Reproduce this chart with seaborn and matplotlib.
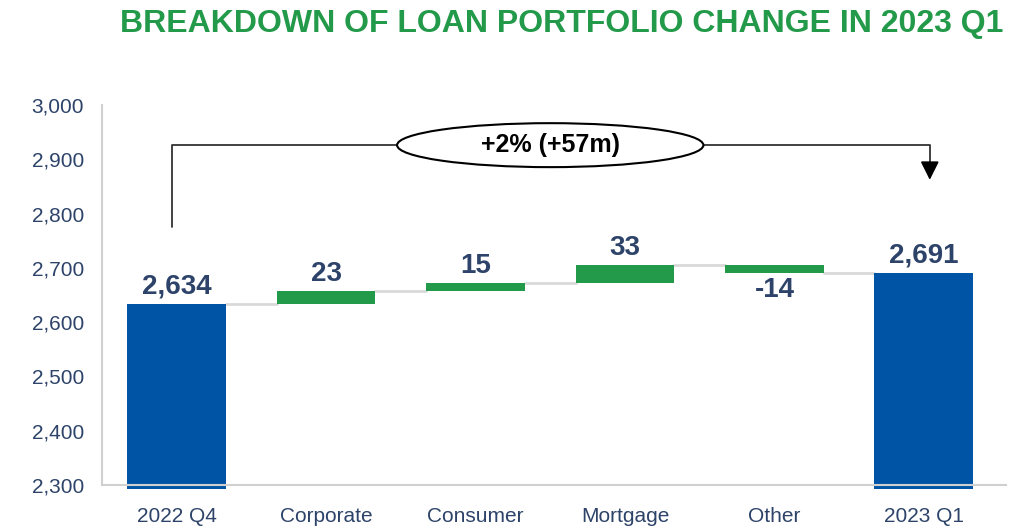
import matplotlib
matplotlib.use('Agg')
import matplotlib.pyplot as plt
import seaborn as sns
import pandas as pd
from matplotlib.patches import Ellipse

# Waterfall data
categories = ['2022 Q4', 'Corporate', 'Consumer', 'Mortgage', 'Other', '2023 Q1']
changes = [2634, 23, 15, 33, -14, 2691]
is_total = [True, False, False, False, False, True]
y_ticks = [2300, 2400, 2500, 2600, 2700, 2800, 2900, 3000]
note_text = '+2% (+57m)'

BLUE = '#0054a5'
GREEN = '#229a4a'
NAVY = '#2d4369'
Y_MIN = 2300

# compute bottoms / tops of each step
bottoms, tops = [], []
running = 0
for v, tot in zip(changes, is_total):
    if tot:
        bottoms.append(Y_MIN - 8)
        tops.append(v)
        running = v
    else:
        start = running
        running = running + v
        bottoms.append(min(start, running))
        tops.append(max(start, running))

df = pd.DataFrame({'category': categories, 'bottom': bottoms, 'top': tops,
                   'change': changes, 'total': is_total})
df['height'] = df['top'] - df['bottom']

sns.set_style('white')
plt.rcParams['font.family'] = ['Liberation Sans', 'DejaVu Sans']

fig = plt.figure(figsize=(10.32, 5.27), dpi=100)
ax = fig.add_axes([0.0988, 0.0797, 0.876, 0.7211])

colors = [BLUE if t else GREEN for t in is_total]
sns.barplot(data=df, x='category', y='height', hue='category', palette=colors,
            legend=False, ax=ax, width=0.66, saturation=1, linewidth=0)
for patch, b in zip(ax.patches, df['bottom']):
    patch.set_y(b)
    patch.set_clip_on(False)

# connectors between steps
for i in range(len(categories) - 1):
    level = df['top'][i] if (is_total[i] or changes[i] > 0) else df['bottom'][i]
    ax.plot([i + 0.33, i + 1 - 0.33], [level, level], color='#d9d9d9', lw=2, zorder=0)

# value labels
for i, row in df.iterrows():
    txt = f"{row['change']:,}"
    if row['change'] < 0:
        ax.text(i, row['bottom'] - 8, txt, ha='center', va='top', fontsize=20,
                fontweight='bold', color=NAVY)
    else:
        ax.text(i, row['top'] + 8, txt, ha='center', va='bottom', fontsize=20,
                fontweight='bold', color=NAVY)

ax.set_ylim(Y_MIN, 3000)
ax.set_xlim(-0.5, 5.55)
ax.set_yticks(y_ticks)
ax.set_yticklabels([f'{t:,}' for t in y_ticks])
ax.tick_params(axis='y', labelsize=15, colors=NAVY, length=0, pad=13)
ax.tick_params(axis='x', labelsize=15, colors=NAVY, length=0, pad=16)
ax.set_xlabel('')
ax.set_ylabel('')
for s in ['top', 'right']:
    ax.spines[s].set_visible(False)
ax.spines['left'].set_color('#d0d0d0')
ax.spines['bottom'].set_color('#d0d0d0')
ax.spines['left'].set_linewidth(1.5)
ax.spines['bottom'].set_linewidth(1.5)

# bracket annotation
y_br = 2926
x_end = 5.04
ax.plot([-0.03, -0.03, x_end, x_end], [2775, y_br, y_br, 2880], color='#333333', lw=1.3,
        clip_on=False, zorder=3)
ax.annotate('', xy=(x_end, 2857), xytext=(x_end, 2890),
            arrowprops=dict(arrowstyle='-|>', color='black', lw=1.3, mutation_scale=28))
ell = Ellipse((2.5, y_br), width=2.05, height=81, facecolor='white', edgecolor='black',
              lw=1.5, zorder=4)
ax.add_patch(ell)
ax.text(2.5, y_br, note_text, ha='center', va='center', fontsize=18, fontweight='bold',
        color='black', zorder=5)

fig.text(0.544, 0.955, 'BREAKDOWN OF LOAN PORTFOLIO CHANGE IN 2023 Q1', ha='center',
         va='center', fontsize=23, fontweight='bold', color=GREEN)

fig.savefig('out.png', dpi=100)
